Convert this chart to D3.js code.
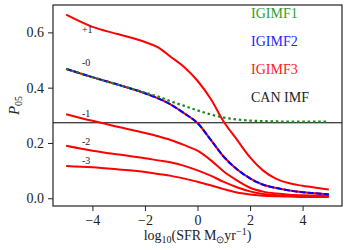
<!DOCTYPE html>
<html>
<head>
<meta charset="utf-8">
<script src="https://cdn.jsdelivr.net/npm/d3@7"></script>
<style>
  html, body { margin: 0; padding: 0; background: #fff; }
  .axis path { display: none; }
  .axis line { stroke: #222; stroke-width: 1; }
</style>
</head>
<body>
<svg id="chart" width="350" height="250"></svg>
<script>
const serif = 'Liberation Serif';

// log10 SFR sample points
const sfr_x = [-5, -4, -3, -2, -1.5, -1, -0.5, 0, 0.5, 1, 1.5, 2, 2.5, 3, 3.5, 4, 4.5, 5];

// IGIMF3 curves, one per metallicity offset
const igimf3_p1 = [0.664, 0.62, 0.593, 0.565, 0.546, 0.51, 0.474, 0.425, 0.36, 0.277, 0.212, 0.148, 0.1, 0.07, 0.054, 0.045, 0.038, 0.032];
const igimf3_0 = [0.468, 0.438, 0.41, 0.38, 0.361, 0.338, 0.307, 0.272, 0.212, 0.15, 0.105, 0.072, 0.049, 0.037, 0.028, 0.022, 0.018, 0.014];
const igimf3_m1 = [0.304, 0.28, 0.258, 0.236, 0.224, 0.21, 0.192, 0.172, 0.138, 0.097, 0.065, 0.038, 0.024, 0.017, 0.013, 0.011, 0.01, 0.009];
const igimf3_m2 = [0.19, 0.172, 0.158, 0.145, 0.137, 0.129, 0.117, 0.101, 0.082, 0.059, 0.04, 0.025, 0.015, 0.011, 0.009, 0.008, 0.007, 0.007];
const igimf3_m3 = [0.117, 0.112, 0.104, 0.095, 0.088, 0.081, 0.071, 0.06, 0.047, 0.033, 0.021, 0.014, 0.009, 0.007, 0.006, 0.005, 0.005, 0.005];

// IGIMF2 and IGIMF1 at solar metallicity
const igimf2_0 = [0.468, 0.438, 0.41, 0.38, 0.361, 0.338, 0.307, 0.272, 0.212, 0.15, 0.105, 0.072, 0.049, 0.037, 0.028, 0.022, 0.018, 0.014];
const igimf1_0 = [0.468, 0.438, 0.41, 0.382, 0.368, 0.35, 0.334, 0.318, 0.303, 0.292, 0.285, 0.281, 0.279, 0.278, 0.277, 0.277, 0.277, 0.277];

// canonical IMF value (horizontal line)
const can_imf = 0.273;

// curve annotations
const curve_labels = ['+1', '-0', '-1', '-2', '-3'];
const curve_label_x = [-4.4, -4.4, -4.4, -4.4, -4.4];
const curve_label_y = [0.61, 0.49, 0.307, 0.207, 0.138];

const legend_names = ['IGIMF1', 'IGIMF2', 'IGIMF3', 'CAN IMF'];
const legend_colors = ['#2ca02c', '#1f1fff', '#ff2020', '#222'];

const x_ticks = [-4, -2, 0, 2, 4];
const y_ticks = [0.0, 0.2, 0.4, 0.6];

const margin = { top: 5, right: 8, bottom: 44, left: 53 };
const w = 350;
const h = 250;
const width = w - margin.left - margin.right;
const height = h - margin.top - margin.bottom;

const svg = d3.select('#chart');
const g = svg.append('g').attr('transform', `translate(${margin.left},${margin.top})`);

const x = d3.scaleLinear().domain([-5.5, 5.5]).range([0, width]);
const y = d3.scaleLinear().domain([-0.028, 0.699]).range([height, 0]);

const line = d3
  .line()
  .x(d => x(d[0]))
  .y(d => y(d[1]))
  .curve(d3.curveMonotoneX);

const pairs = vals => sfr_x.map((v, i) => [v, vals[i]]);

g.append('clipPath').attr('id', 'clip')
  .append('rect').attr('width', width).attr('height', height);

const plot = g.append('g').attr('clip-path', 'url(#clip)');

// canonical line
plot.append('line')
  .attr('x1', 0).attr('x2', width)
  .attr('y1', y(can_imf)).attr('y2', y(can_imf))
  .attr('stroke', '#000').attr('stroke-width', 1);

// IGIMF3 red curves
[igimf3_p1, igimf3_0, igimf3_m1, igimf3_m2, igimf3_m3].forEach(vals => {
  plot.append('path')
    .datum(pairs(vals))
    .attr('fill', 'none')
    .attr('stroke', '#ff0000')
    .attr('stroke-width', 2)
    .attr('d', line);
});

// IGIMF2 blue dashed over red
plot.append('path')
  .datum(pairs(igimf2_0))
  .attr('fill', 'none')
  .attr('stroke', '#0000ff')
  .attr('stroke-width', 2)
  .attr('stroke-dasharray', '6,2')
  .attr('d', line);

// IGIMF1 green dotted
plot.append('path')
  .datum(pairs(igimf1_0))
  .attr('fill', 'none')
  .attr('stroke', '#1a8a1a')
  .attr('stroke-width', 2.2)
  .attr('stroke-dasharray', '2.5,2.8')
  .attr('d', line);

// curve labels
g.selectAll('.curve-label')
  .data(curve_labels)
  .join('text')
  .attr('class', 'curve-label')
  .attr('x', (d, i) => x(curve_label_x[i]))
  .attr('y', (d, i) => y(curve_label_y[i]))
  .attr('dy', '0.35em')
  .attr('font-family', serif)
  .attr('font-size', 10)
  .attr('fill', '#222')
  .text(d => d);

// legend (text only)
g.selectAll('.legend-text')
  .data(legend_names)
  .join('text')
  .attr('class', 'legend-text')
  .attr('x', 198)
  .attr('y', (d, i) => 8.5 + i * 28)
  .attr('dy', '0.35em')
  .attr('font-family', serif)
  .attr('font-size', 14)
  .attr('fill', (d, i) => legend_colors[i])
  .text(d => d);

// axes
const axis_x = d3.axisBottom(x)
  .tickValues(x_ticks)
  .tickSize(5)
  .tickPadding(4)
  .tickFormat(d => (d < 0 ? '\u2212' : '') + Math.abs(d));

g.append('g')
  .attr('class', 'axis axis-x')
  .attr('transform', `translate(0,${height})`)
  .call(axis_x)
  .attr('font-family', serif)
  .attr('font-size', 14);

const axis_y = d3.axisLeft(y)
  .tickValues(y_ticks)
  .tickSize(5)
  .tickPadding(4)
  .tickFormat(d3.format('.1f'));

g.append('g')
  .attr('class', 'axis axis-y')
  .call(axis_y)
  .attr('font-family', serif)
  .attr('font-size', 14);

g.selectAll('.axis text').attr('fill', '#222');

// frame
g.append('rect')
  .attr('width', width)
  .attr('height', height)
  .attr('fill', 'none')
  .attr('stroke', '#222')
  .attr('stroke-width', 1.2);

// y label P_05
const ylab = svg.append('text')
  .attr('transform', `translate(19,${margin.top + height / 2}) rotate(-90)`)
  .attr('text-anchor', 'middle')
  .attr('font-family', serif)
  .attr('font-size', 15)
  .attr('fill', '#222');
ylab.append('tspan').attr('font-style', 'italic').text('P');
ylab.append('tspan').attr('font-size', 10).attr('dy', 3).text('05');

// x label log10(SFR M_sun yr^-1)
const xlab = svg.append('text')
  .attr('x', margin.left + width / 2)
  .attr('y', 240)
  .attr('text-anchor', 'middle')
  .attr('font-family', serif)
  .attr('font-size', 14)
  .attr('fill', '#222');
xlab.append('tspan').text('log');
xlab.append('tspan').attr('font-size', 10).attr('dy', 3).text('10');
xlab.append('tspan').attr('dy', -3).text('(SFR\u2009M');
xlab.append('tspan').attr('font-size', 10).attr('dy', 3).text('\u2299');
xlab.append('tspan').attr('dy', -3).text('yr');
xlab.append('tspan').attr('font-size', 10).attr('dy', -5).text('\u22121');
xlab.append('tspan').attr('dy', 5).text(')');
</script>
</body>
</html>
